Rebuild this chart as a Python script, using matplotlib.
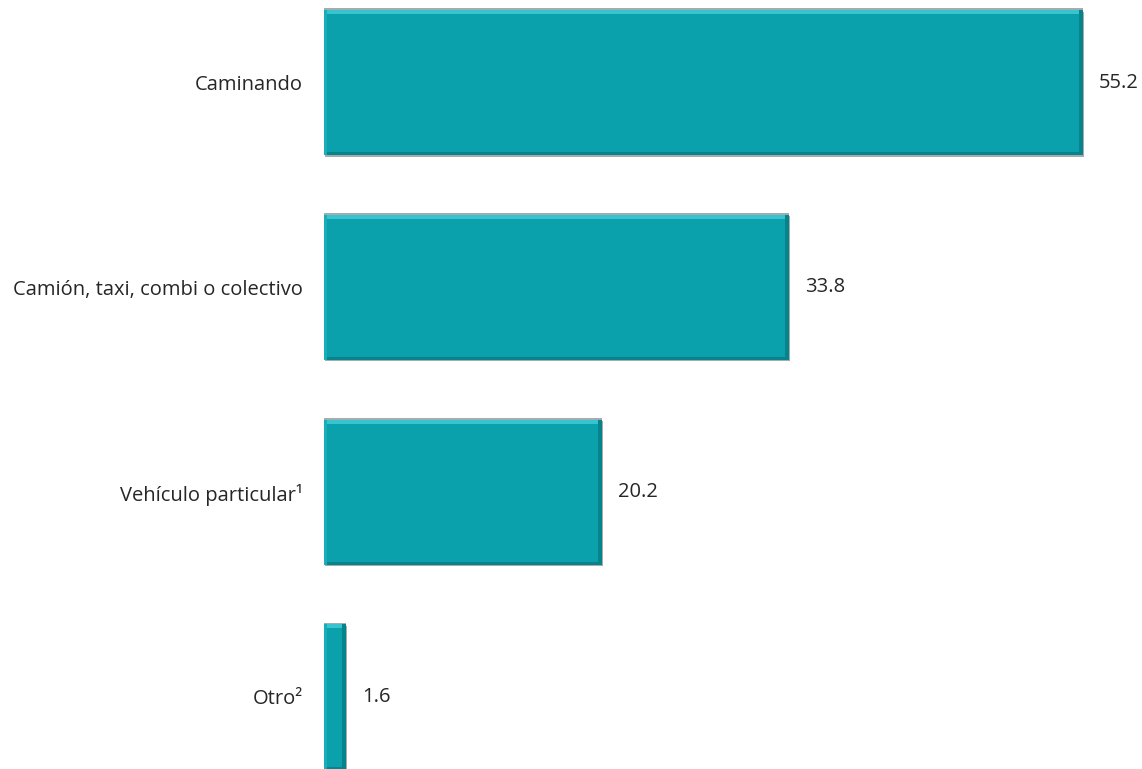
import matplotlib
matplotlib.use("Agg")
import matplotlib.pyplot as plt
import numpy as np

categories = ["Caminando", "Camión, taxi, combi o colectivo", "Vehículo particular¹", "Otro²"]
values = [55.2, 33.8, 20.2, 1.6]
value_labels = ["55.2", "33.8", "20.2", "1.6"]

plt.rcParams['font.family'] = ['Open Sans', 'DejaVu Sans']

W, H = 1142, 769
fig = plt.figure(figsize=(W/100, H/100), dpi=100)
left_px = 324
ax = fig.add_axes([left_px/W, 0, 1 - left_px/W, 1])

px_per_unit = 13.75
ax.set_xlim(0, (W - left_px)/px_per_unit)
spacing = 204.8
c0 = 82.5
ax.set_ylim((H - c0)/spacing, -c0/spacing)

pos = np.arange(len(categories))
bh = 0.708
main = '#0aa1ad'
light = '#38c4ce'
dark = '#07838c'
shadow = '#a3adae'

# shadow
ax.barh(pos + 0.008, values, height=bh, left=0.1, color=shadow, zorder=1)
ax.barh(pos - bh/2 - 0.004, values, height=0.008, color=shadow, zorder=1)
# main bar
ax.barh(pos, values, height=bh, color=main, zorder=2)
# top highlight
ax.barh(pos - bh/2 + 0.01, values, height=0.02, color=light, zorder=3)
# right darker edge
rw = 0.3
ax.barh(pos, [rw]*len(values), height=bh, left=[v - rw for v in values], color=dark, zorder=3)
# bottom darker edge
ax.barh(pos + bh/2 - 0.007, values, height=0.014, color=dark, zorder=3)
# left subtle highlight
ax.barh(pos, [0.25]*len(values), height=bh, color='#18adb8', zorder=3)

for p, v, t in zip(pos, values, value_labels):
    ax.text(v + 16/px_per_unit, p, t, va='center', ha='left', fontsize=14.5, color='#262626')

ax.set_yticks(pos)
ax.set_yticklabels(categories, fontsize=14.5, color='#262626')
ax.tick_params(axis='y', length=0, pad=15)
ax.set_xticks([])
for s in ax.spines.values():
    s.set_visible(False)

fig.savefig("out.png", dpi=100, facecolor='white')
